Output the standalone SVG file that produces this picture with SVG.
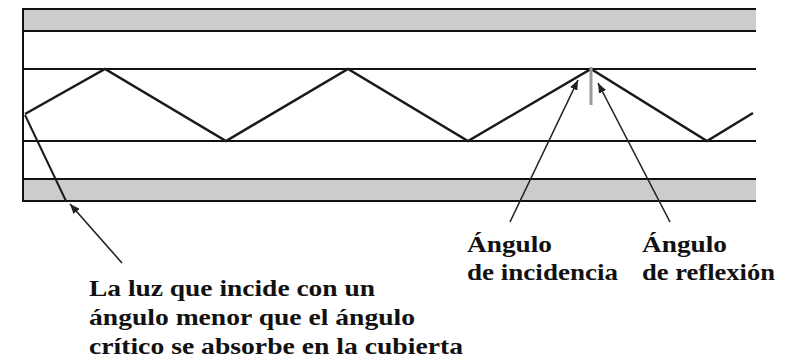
<svg xmlns="http://www.w3.org/2000/svg" width="795" height="363" viewBox="0 0 795 363">
<style>
.band{fill:#cccccc;stroke:none}
.edge{stroke:#111;stroke-width:2;fill:none}
.ray{stroke:#1a1a1a;stroke-width:2.5;fill:none;stroke-linejoin:miter}
.ray2{stroke:#1a1a1a;stroke-width:2;fill:none}
.ptr{stroke:#222;stroke-width:1.6;fill:none}
.normal{stroke:#9a9a9a;stroke-width:3}
text{font-family:"Liberation Serif","Times New Roman",serif;font-weight:bold;font-size:23px;fill:#111}
</style>
<defs>
<marker id="ah" viewBox="0 0 10 8" refX="10" refY="4" markerWidth="10" markerHeight="8" markerUnits="userSpaceOnUse" orient="auto">
<path d="M0,0 L10,4 L0,8 z" fill="#222"/>
</marker>
</defs>
<g id="fiber">
<rect class="band" x="23" y="9" width="733" height="22"/>
<rect class="band" x="23" y="179" width="733" height="22"/>
<line class="edge" x1="23" y1="9" x2="756" y2="9"/>
<line class="edge" x1="23" y1="31" x2="756" y2="31"/>
<line class="edge" x1="23" y1="69" x2="756" y2="69"/>
<line class="edge" x1="23" y1="141" x2="756" y2="141"/>
<line class="edge" x1="23" y1="179" x2="756" y2="179"/>
<line class="edge" x1="23" y1="201" x2="756" y2="201"/>
<line class="edge" x1="23" y1="8" x2="23" y2="202"/>
</g>
<g id="rays">
<polyline class="ray" points="25,114 105,69 226,141 348,69 468,141 591,69 707,141 753,113"/>
<line class="ray2" x1="25" y1="115" x2="66" y2="201"/>
<line class="normal" x1="591" y1="67" x2="591" y2="105"/>
</g>
<g id="connectors">
<line class="ptr" x1="122" y1="263" x2="70" y2="204" marker-end="url(#ah)"/>
<line class="ptr" x1="510" y1="222" x2="578" y2="80" marker-end="url(#ah)"/>
<line class="ptr" x1="670" y1="222" x2="598" y2="83" marker-end="url(#ah)"/>
</g>
<g id="label-absorbe">
<text x="89" y="296" textLength="286" lengthAdjust="spacingAndGlyphs">La luz que incide con un</text>
<text x="89" y="325" textLength="326" lengthAdjust="spacingAndGlyphs">ángulo menor que el ángulo</text>
<text x="89" y="354" textLength="374" lengthAdjust="spacingAndGlyphs">crítico se absorbe en la cubierta</text>
</g>
<g id="label-incidencia">
<text x="467" y="252" textLength="85" lengthAdjust="spacingAndGlyphs">Ángulo</text>
<text x="467" y="280" textLength="151" lengthAdjust="spacingAndGlyphs">de incidencia</text>
</g>
<g id="label-reflexion">
<text x="642" y="252" textLength="85" lengthAdjust="spacingAndGlyphs">Ángulo</text>
<text x="642" y="280" textLength="133" lengthAdjust="spacingAndGlyphs">de reflexión</text>
</g>
</svg>
